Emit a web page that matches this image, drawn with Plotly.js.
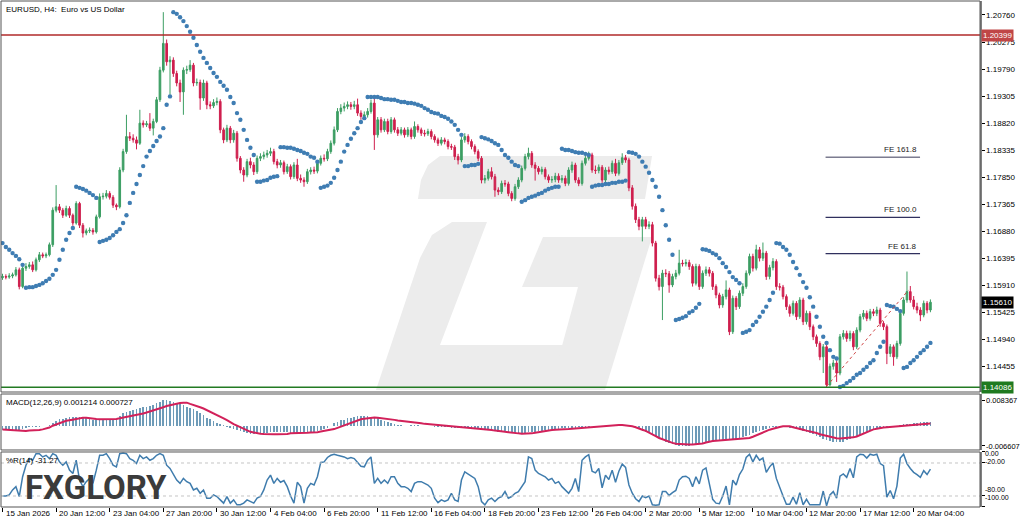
<!DOCTYPE html>
<html><head><meta charset="utf-8">
<script src="https://cdn.plot.ly/plotly-3.0.1.min.js"></script>
<style>html,body{margin:0;padding:0;background:#fff;}#chart{width:1024px;height:524px;}</style>
</head><body><div id="chart"></div>
<script>
// ---------- DATA ----------
const symbolTitle = "EURUSD,\u00a0H4:\u00a0\u00a0Euro vs US Dollar";
const firstOpen = 1.1605;
const close = [
1.1607,1.1606,1.1608,1.1610,1.1619,1.1589,1.1622,1.1625,1.1628,1.1619,
1.1637,1.1646,1.1644,1.1646,1.1664,1.1726,1.1732,1.1726,1.1717,1.1729,
1.1717,1.1703,1.1738,1.1699,1.1685,1.1689,1.1690,1.1687,1.1714,1.1750,
1.1751,1.1756,1.1749,1.1735,1.1732,1.1798,1.1831,1.1858,1.1855,1.1852,
1.1846,1.1882,1.1879,1.1881,1.1873,1.1885,1.1924,1.1977,1.2025,1.1992,
1.1995,1.1971,1.1954,1.1938,1.1977,1.1978,1.1986,1.1954,1.1955,1.1927,
1.1954,1.1915,1.1913,1.1919,1.1921,1.1870,1.1852,1.1873,1.1852,1.1864,
1.1819,1.1798,1.1789,1.1813,1.1807,1.1795,1.1819,1.1822,1.1825,1.1828,
1.1831,1.1813,1.1807,1.1811,1.1795,1.1804,1.1786,1.1807,1.1783,1.1780,
1.1777,1.1795,1.1798,1.1796,1.1810,1.1819,1.1818,1.1831,1.1846,1.1870,
1.1903,1.1909,1.1912,1.1915,1.1912,1.1915,1.1900,1.1894,1.1897,1.1903,
1.1918,1.1861,1.1888,1.1870,1.1885,1.1867,1.1888,1.1870,1.1864,1.1870,
1.1861,1.1870,1.1858,1.1876,1.1870,1.1864,1.1863,1.1867,1.1858,1.1852,
1.1846,1.1852,1.1849,1.1840,1.1839,1.1822,1.1816,1.1852,1.1858,1.1849,
1.1840,1.1831,1.1819,1.1780,1.1783,1.1795,1.1786,1.1762,1.1759,1.1774,
1.1773,1.1756,1.1747,1.1768,1.1780,1.1801,1.1822,1.1828,1.1807,1.1801,
1.1795,1.1799,1.1786,1.1780,1.1781,1.1787,1.1780,1.1783,1.1774,1.1798,
1.1807,1.1780,1.1774,1.1810,1.1819,1.1825,1.1798,1.1797,1.1803,1.1780,
1.1798,1.1795,1.1810,1.1792,1.1811,1.1820,1.1816,1.1766,1.1733,1.1709,
1.1697,1.1709,1.1697,1.1700,1.1667,1.1604,1.1589,1.1613,1.1612,1.1592,
1.1607,1.1613,1.1631,1.1630,1.1632,1.1625,1.1595,1.1625,1.1589,1.1613,
1.1619,1.1613,1.1589,1.1574,1.1556,1.1571,1.1583,1.1508,1.1568,1.1553,
1.1577,1.1589,1.1613,1.1643,1.1622,1.1655,1.1640,1.1649,1.1607,1.1623,
1.1634,1.1589,1.1588,1.1571,1.1553,1.1541,1.1559,1.1535,1.1565,1.1526,
1.1541,1.1517,1.1499,1.1487,1.1463,1.1481,1.1413,1.1446,1.1452,1.1434,
1.1499,1.1505,1.1496,1.1505,1.1481,1.1511,1.1535,1.1541,1.1532,1.1544,
1.1541,1.1547,1.1523,1.1517,1.1469,1.1481,1.1463,1.1487,1.1541,1.1565,
1.1580,1.1565,1.1553,1.1547,1.1538,1.1559,1.1547,1.1561];
const high = [
1.1612,1.1611,1.1613,1.1614,1.1624,1.1623,1.1626,1.1631,1.1633,1.1634,
1.1641,1.1651,1.1650,1.1650,1.1668,1.1731,1.1771,1.1737,1.1730,1.1734,
1.1733,1.1720,1.1742,1.1741,1.1703,1.1693,1.1695,1.1694,1.1718,1.1756,
1.1757,1.1762,1.1760,1.1753,1.1738,1.1803,1.1836,1.1897,1.1866,1.1862,
1.1858,1.1906,1.1887,1.1886,1.1900,1.1890,1.1929,1.1983,1.2081,1.2032,
1.2002,1.2000,1.1976,1.1960,1.1982,1.1985,1.1995,1.1990,1.1962,1.1960,
1.1960,1.1958,1.1921,1.1925,1.1928,1.1925,1.1874,1.1879,1.1877,1.1870,
1.1868,1.1823,1.1803,1.1818,1.1820,1.1812,1.1824,1.1828,1.1831,1.1834,
1.1838,1.1836,1.1818,1.1816,1.1815,1.1809,1.1808,1.1812,1.1818,1.1790,
1.1785,1.1800,1.1803,1.1804,1.1815,1.1824,1.1826,1.1836,1.1851,1.1876,
1.1909,1.1916,1.1919,1.1921,1.1920,1.1922,1.1926,1.1905,1.1903,1.1909,
1.1924,1.1930,1.1893,1.1893,1.1890,1.1890,1.1893,1.1892,1.1875,1.1875,
1.1874,1.1875,1.1874,1.1885,1.1880,1.1874,1.1870,1.1872,1.1871,1.1862,
1.1856,1.1857,1.1856,1.1853,1.1845,1.1843,1.1827,1.1857,1.1864,1.1862,
1.1853,1.1844,1.1835,1.1823,1.1789,1.1800,1.1803,1.1791,1.1767,1.1779,
1.1780,1.1777,1.1760,1.1773,1.1785,1.1806,1.1827,1.1838,1.1832,1.1812,
1.1805,1.1804,1.1803,1.1790,1.1787,1.1793,1.1792,1.1789,1.1788,1.1803,
1.1813,1.1811,1.1785,1.1815,1.1825,1.1831,1.1829,1.1806,1.1808,1.1807,
1.1803,1.1804,1.1815,1.1818,1.1816,1.1828,1.1825,1.1820,1.1771,1.1738,
1.1714,1.1714,1.1714,1.1706,1.1705,1.1671,1.1610,1.1619,1.1620,1.1617,
1.1612,1.1619,1.1655,1.1637,1.1638,1.1637,1.1629,1.1630,1.1629,1.1618,
1.1625,1.1624,1.1617,1.1593,1.1578,1.1576,1.1600,1.1587,1.1573,1.1572,
1.1582,1.1595,1.1618,1.1648,1.1648,1.1664,1.1660,1.1668,1.1653,1.1628,
1.1640,1.1638,1.1595,1.1592,1.1575,1.1557,1.1564,1.1563,1.1570,1.1569,
1.1546,1.1545,1.1521,1.1503,1.1491,1.1486,1.1485,1.1451,1.1458,1.1457,
1.1504,1.1511,1.1510,1.1510,1.1509,1.1516,1.1540,1.1547,1.1546,1.1549,
1.1549,1.1553,1.1551,1.1527,1.1521,1.1486,1.1485,1.1492,1.1546,1.1570,
1.1616,1.1590,1.1572,1.1560,1.1552,1.1564,1.1563,1.1566];
const low = [
1.1601,1.1602,1.1603,1.1604,1.1607,1.1584,1.1586,1.1617,1.1621,1.1615,
1.1616,1.1633,1.1640,1.1640,1.1643,1.1660,1.1722,1.1721,1.1712,1.1714,
1.1712,1.1698,1.1700,1.1694,1.1677,1.1681,1.1685,1.1682,1.1684,1.1711,
1.1745,1.1747,1.1745,1.1730,1.1726,1.1729,1.1794,1.1827,1.1850,1.1847,
1.1835,1.1843,1.1874,1.1875,1.1868,1.1860,1.1882,1.1920,1.1973,1.1985,
1.1933,1.1965,1.1948,1.1920,1.1897,1.1970,1.1974,1.1948,1.1949,1.1906,
1.1922,1.1907,1.1907,1.1909,1.1914,1.1864,1.1846,1.1848,1.1846,1.1847,
1.1813,1.1792,1.1777,1.1785,1.1801,1.1789,1.1791,1.1814,1.1817,1.1820,
1.1823,1.1808,1.1801,1.1802,1.1790,1.1791,1.1781,1.1782,1.1778,1.1775,
1.1768,1.1773,1.1790,1.1791,1.1792,1.1806,1.1813,1.1814,1.1827,1.1842,
1.1866,1.1898,1.1903,1.1907,1.1906,1.1907,1.1895,1.1888,1.1889,1.1892,
1.1899,1.1834,1.1856,1.1865,1.1866,1.1862,1.1863,1.1865,1.1859,1.1860,
1.1856,1.1857,1.1853,1.1854,1.1865,1.1859,1.1858,1.1859,1.1853,1.1847,
1.1841,1.1842,1.1844,1.1835,1.1834,1.1816,1.1808,1.1812,1.1847,1.1844,
1.1835,1.1826,1.1814,1.1774,1.1774,1.1779,1.1781,1.1750,1.1753,1.1755,
1.1768,1.1751,1.1742,1.1743,1.1764,1.1776,1.1797,1.1817,1.1802,1.1779,
1.1790,1.1790,1.1781,1.1775,1.1775,1.1776,1.1775,1.1775,1.1769,1.1770,
1.1793,1.1775,1.1769,1.1770,1.1806,1.1815,1.1793,1.1791,1.1792,1.1775,
1.1776,1.1790,1.1791,1.1787,1.1788,1.1807,1.1811,1.1760,1.1727,1.1703,
1.1690,1.1670,1.1692,1.1692,1.1661,1.1598,1.1582,1.1529,1.1606,1.1578,
1.1588,1.1602,1.1609,1.1625,1.1625,1.1619,1.1589,1.1591,1.1583,1.1585,
1.1608,1.1607,1.1583,1.1568,1.1550,1.1551,1.1566,1.1502,1.1504,1.1547,
1.1549,1.1572,1.1585,1.1609,1.1616,1.1618,1.1634,1.1635,1.1601,1.1602,
1.1618,1.1583,1.1582,1.1566,1.1547,1.1535,1.1537,1.1529,1.1531,1.1520,
1.1521,1.1511,1.1493,1.1481,1.1457,1.1434,1.14086,1.1410,1.1440,1.1418,
1.1430,1.1494,1.1490,1.1491,1.1475,1.1477,1.1507,1.1530,1.1527,1.1528,
1.1536,1.1536,1.1517,1.1511,1.1450,1.1463,1.1447,1.1459,1.1483,1.1537,
1.1560,1.1560,1.1548,1.1541,1.1527,1.1534,1.1541,1.1543];
const sar = [
1.1667,1.1660,1.1655,1.1649,1.1644,1.1638,1.1628,1.1587,1.1588,1.1588,
1.1590,1.1592,1.1595,1.1599,1.1603,1.1610,1.1619,1.1637,1.1655,1.1673,
1.1685,1.1694,1.1768,1.1766,1.1764,1.1761,1.1757,1.1753,1.1748,1.1669,
1.1671,1.1673,1.1676,1.1681,1.1687,1.1692,1.1703,1.1717,1.1739,1.1757,
1.1773,1.1789,1.1805,1.1822,1.1832,1.1841,1.1850,1.1858,1.1873,1.1915,
1.1930,1.2081,1.2078,1.2072,1.2065,1.2056,1.2046,1.2035,1.2022,1.2010,
1.1999,1.1990,1.1981,1.1972,1.1965,1.1956,1.1949,1.1942,1.1929,1.1918,
1.1900,1.1888,1.1870,1.1852,1.1838,1.1825,1.1777,1.1777,1.1779,1.1780,
1.1784,1.1786,1.1787,1.1839,1.1839,1.1838,1.1838,1.1836,1.1834,1.1832,
1.1829,1.1827,1.1822,1.1820,1.1813,1.1766,1.1768,1.1770,1.1775,1.1784,
1.1798,1.1813,1.1831,1.1843,1.1854,1.1864,1.1873,1.1884,1.1891,1.1929,
1.1929,1.1929,1.1929,1.1927,1.1925,1.1925,1.1924,1.1924,1.1922,1.1920,
1.1920,1.1918,1.1918,1.1917,1.1915,1.1913,1.1909,1.1906,1.1902,1.1900,
1.1899,1.1895,1.1893,1.1890,1.1885,1.1879,1.1870,1.1861,1.1805,1.1805,
1.1807,1.1807,1.1809,1.1857,1.1855,1.1853,1.1850,1.1846,1.1843,1.1834,
1.1825,1.1820,1.1813,1.1807,1.1805,1.1741,1.1744,1.1748,1.1750,1.1752,
1.1755,1.1757,1.1761,1.1764,1.1766,1.1768,1.1768,1.1836,1.1834,1.1834,
1.1832,1.1830,1.1829,1.1829,1.1827,1.1825,1.1768,1.1770,1.1771,1.1771,
1.1773,1.1773,1.1775,1.1775,1.1777,1.1777,1.1779,1.1830,1.1829,1.1827,
1.1822,1.1813,1.1804,1.1793,1.1780,1.1768,1.1750,1.1726,1.1699,1.1673,
1.1646,1.1529,1.1531,1.1533,1.1536,1.1542,1.1545,1.1551,1.1558,1.1656,
1.1655,1.1653,1.1649,1.1646,1.1640,1.1631,1.1624,1.1615,1.1606,1.1601,
1.1595,1.1506,1.1508,1.1511,1.1520,1.1526,1.1535,1.1544,1.1553,1.1565,
1.1578,1.1667,1.1666,1.1660,1.1655,1.1646,1.1633,1.1622,1.1610,1.1597,
1.1587,1.1570,1.1553,1.1535,1.1517,1.1499,1.1488,1.1475,1.1463,1.1460,
1.1409,1.1411,1.1416,1.1420,1.1425,1.1431,1.1434,1.1440,1.1445,1.1452,
1.1457,1.1470,1.1481,1.1490,1.1556,1.1554,1.1553,1.1549,1.1545,1.1443,
1.1445,1.1452,1.1457,1.1463,1.1470,1.1475,1.1481,1.1488];
const macdHist = [
-0.0014,-0.0014,-0.0014,-0.0014,-0.0013,-0.0014,-0.0010,-0.0007,-0.0005,-0.0005,
-0.0004,-0.0003,-0.0002,-0.0001,0.0002,0.0010,0.0016,0.0021,0.0023,0.0025,
0.0027,0.0027,0.0029,0.0028,0.0026,0.0024,0.0021,0.0018,0.0018,0.0020,
0.0021,0.0022,0.0021,0.0021,0.0023,0.0032,0.0040,0.0046,0.0049,0.0051,
0.0053,0.0057,0.0060,0.0062,0.0064,0.0067,0.0073,0.0078,0.0083,0.008367,
0.0082,0.0078,0.0075,0.0072,0.0067,0.0062,0.0058,0.0053,0.0048,0.0040,
0.0034,0.0026,0.0021,0.0015,0.0010,0.0005,0.0001,-0.0003,-0.0007,-0.0011,
-0.0015,-0.0018,-0.0022,-0.0024,-0.0026,-0.0027,-0.0027,-0.0026,-0.0025,-0.0023,
-0.0022,-0.0021,-0.0021,-0.0021,-0.0021,-0.0022,-0.0023,-0.0023,-0.0023,-0.0023,
-0.0023,-0.0022,-0.0021,-0.0020,-0.0018,-0.0015,-0.0011,-0.0006,-0.0002,0.0008,
0.0012,0.0017,0.0019,0.0024,0.0026,0.0029,0.0030,0.0031,0.0032,0.0031,
0.0029,0.0026,0.0024,0.0020,0.0016,0.0013,0.0010,0.0006,0.0002,0.0001,
0.0000,-0.0001,0.0001,0.0002,0.0001,0.0000,-0.0001,-0.0001,-0.0002,-0.0003,
-0.0003,-0.0004,-0.0004,-0.0005,-0.0006,-0.0007,-0.0008,-0.0006,-0.0006,-0.0007,
-0.0008,-0.0009,-0.0011,-0.0013,-0.0014,-0.0015,-0.0016,-0.0018,-0.0020,-0.0021,
-0.0022,-0.0023,-0.0023,-0.0023,-0.0023,-0.0023,-0.0023,-0.0022,-0.0021,-0.0020,
-0.0018,-0.0016,-0.0014,-0.0013,-0.0012,-0.0011,-0.0010,-0.0009,-0.0008,-0.0007,
-0.0006,-0.0006,-0.0005,-0.0004,-0.0003,-0.0003,-0.0002,-0.0001,-0.0001,-0.0001,
0.0000,0.0001,0.0001,0.0001,0.0001,0.0002,0.0001,-0.0001,-0.0004,-0.0007,
-0.0012,-0.0016,-0.0019,-0.0024,-0.0028,-0.0034,-0.0040,-0.0046,-0.0052,-0.0056,
-0.0060,-0.0062,-0.0065,-0.006607,-0.0066,-0.0065,-0.0064,-0.0061,-0.0060,-0.0058,
-0.0055,-0.0053,-0.0052,-0.0050,-0.0049,-0.0048,-0.0047,-0.0047,-0.0046,-0.0043,
-0.0041,-0.0037,-0.0034,-0.0029,-0.0025,-0.0022,-0.0018,-0.0014,-0.0011,-0.0007,
-0.0005,-0.0004,-0.0002,-0.0002,-0.0004,-0.0006,-0.0008,-0.0011,-0.0013,-0.0017,
-0.0020,-0.0024,-0.0028,-0.0032,-0.0037,-0.0042,-0.0047,-0.0050,-0.0053,-0.0054,
-0.0054,-0.0052,-0.0048,-0.0044,-0.0041,-0.0036,-0.0031,-0.0026,-0.0022,-0.0017,
-0.0013,-0.0010,-0.0007,-0.0005,-0.0004,-0.0004,-0.0002,-0.0001,0.0001,0.0004,
0.0006,0.0007,0.0008,0.0010,0.0011,0.0011,0.0012,0.001214];
const macdSignal = [
-0.0012,-0.0013,-0.0014,-0.0015,-0.0016,-0.0017,-0.0017,-0.0017,-0.0016,-0.0016,
-0.0015,-0.0014,-0.0012,-0.0009,-0.0006,0.0000,0.0004,0.0009,0.0012,0.0016,
0.0018,0.0020,0.0024,0.0025,0.0026,0.0026,0.0024,0.0023,0.0022,0.0021,
0.0021,0.0021,0.0021,0.0021,0.0022,0.0024,0.0026,0.0028,0.0030,0.0033,
0.0035,0.0037,0.0040,0.0043,0.0046,0.0049,0.0052,0.0057,0.0060,0.0064,
0.0067,0.0069,0.0073,0.0074,0.0075,0.0075,0.0071,0.0068,0.0065,0.0060,
0.0056,0.0051,0.0046,0.0041,0.0036,0.0029,0.0024,0.0018,0.0010,0.0005,
0.0000,-0.0005,-0.0009,-0.0013,-0.0020,-0.0022,-0.0025,-0.0026,-0.0027,-0.0028,
-0.0028,-0.0028,-0.0028,-0.0028,-0.0027,-0.0027,-0.0025,-0.0025,-0.0024,-0.0023,
-0.0023,-0.0023,-0.0022,-0.0022,-0.0021,-0.0019,-0.0017,-0.0016,-0.0014,-0.0011,
-0.0007,-0.0003,0.0002,0.0007,0.0011,0.0015,0.0018,0.0021,0.0023,0.0025,
0.0026,0.0027,0.0026,0.0025,0.0024,0.0023,0.0021,0.0019,0.0017,0.0016,
0.0014,0.0012,0.0011,0.0010,0.0009,0.0008,0.0006,0.0005,0.0004,0.0003,
0.0002,0.0001,0.0000,-0.0001,-0.0002,-0.0003,-0.0003,-0.0004,-0.0005,-0.0005,
-0.0006,-0.0007,-0.0009,-0.0010,-0.0011,-0.0013,-0.0014,-0.0016,-0.0018,-0.0019,
-0.0020,-0.0021,-0.0023,-0.0024,-0.0025,-0.0026,-0.0026,-0.0026,-0.0025,-0.0023,
-0.0021,-0.0018,-0.0016,-0.0015,-0.0014,-0.0013,-0.0013,-0.0012,-0.0011,-0.0011,
-0.0010,-0.0009,-0.0009,-0.0008,-0.0007,-0.0006,-0.0004,-0.0003,-0.0002,-0.0001,
0.0000,0.0000,0.0001,0.0001,0.0002,0.0002,0.0001,0.0000,-0.0002,-0.0005,
-0.0010,-0.0013,-0.0017,-0.0022,-0.0028,-0.0034,-0.0040,-0.0044,-0.0049,-0.0054,
-0.0056,-0.0059,-0.0060,-0.0061,-0.0061,-0.0061,-0.0061,-0.0060,-0.0060,-0.0058,
-0.0055,-0.0052,-0.0050,-0.0049,-0.0048,-0.0047,-0.0047,-0.0046,-0.0044,-0.0044,
-0.0043,-0.0042,-0.0041,-0.0040,-0.0036,-0.0031,-0.0028,-0.0023,-0.0018,-0.0013,
-0.0010,-0.0006,-0.0004,-0.0002,-0.0001,-0.0002,-0.0005,-0.0007,-0.0010,-0.0013,
-0.0016,-0.0018,-0.0020,-0.0024,-0.0028,-0.0031,-0.0034,-0.0036,-0.0038,-0.0041,
-0.0042,-0.0041,-0.0041,-0.0040,-0.0038,-0.0035,-0.0030,-0.0025,-0.0020,-0.0016,
-0.0012,-0.0010,-0.0007,-0.0006,-0.0005,-0.0004,-0.0004,-0.0002,-0.0002,-0.0001,
-0.0001,0.0000,0.0001,0.0002,0.0004,0.0005,0.0007,0.000727];
const willR = [
-80,-80,-78,-69,-63,-81,-45,-24,-12,-15,
-3,-3,-9,-6,-12,-3,-6,-18,-24,-18,
-33,-39,-15,-51,-63,-54,-48,-57,-33,-6,
-6,-3,-12,-24,-27,-3,-2,-3,-12,-15,
-21,-6,-12,-9,-15,-12,-6,-3,-6,-24,
-30,-42,-51,-57,-48,-54,-57,-69,-66,-75,
-69,-84,-84,-78,-81,-87,-93,-81,-93,-87,
-96,-96,-93,-87,-90,-93,-84,-81,-69,-51,
-42,-57,-48,-55,-52,-63,-80,-93,-55,-63,
-93,-66,-57,-60,-45,-19,-18,-10,-6,-4,
-6,-7,-9,-12,-10,-12,-20,-26,-27,-15,
-9,-57,-48,-57,-51,-57,-45,-45,-57,-63,
-63,-66,-72,-57,-54,-54,-57,-60,-66,-84,
-92,-87,-90,-87,-75,-87,-90,-51,-36,-40,
-45,-48,-63,-90,-96,-87,-84,-90,-84,-81,
-72,-84,-81,-75,-72,-63,-54,-9,-12,-33,
-39,-42,-45,-51,-48,-57,-54,-63,-69,-75,
-66,-48,-72,-15,-9,-5,-35,-38,-30,-65,
-42,-50,-33,-55,-35,-22,-28,-60,-75,-85,
-90,-80,-83,-80,-96,-97,-96,-72,-72,-79,
-74,-70,-51,-45,-44,-48,-63,-45,-58,-33,
-29,-55,-86,-93,-94,-80,-62,-96,-51,-60,
-41,-31,-10,-4,-18,-6,-15,-11,-37,-27,
-20,-48,-66,-80,-95,-95,-82,-95,-74,-96,
-86,-96,-96,-96,-96,-71,-98,-78,-72,-84,
-44,-40,-46,-30,-47,-9,-4,-5,-11,-4,
-6,-4,-21,-25,-82,-70,-85,-62,-11,-4,
-21,-30,-37,-41,-46,-34,-41,-31.27];
const timeTickIdx = [0,16,32,48,64,80,96,112,128,144,160,176,192,208,224,240,256,272];
const timeTickLabels = ["15 Jan 2026","20 Jan 12:00","23 Jan 04:00","27 Jan 20:00","30 Jan 12:00","4 Feb 04:00","6 Feb 20:00","11 Feb 12:00","16 Feb 04:00","18 Feb 20:00","23 Feb 12:00","26 Feb 04:00","2 Mar 20:00","5 Mar 12:00","10 Mar 04:00","12 Mar 20:00","17 Mar 12:00","20 Mar 04:00"];
const priceTicks = [1.20760,1.20275,1.19790,1.19305,1.18820,1.18335,1.17850,1.17365,1.16880,1.16395,1.15910,1.15425,1.14940,1.14455];
const resistanceLevel = 1.20399;
const supportLevel = 1.14086;
const feLabels = ["FE 161.8","FE 100.0","FE 61.8"];
const feLevels = [1.1821, 1.1713, 1.1648];
const feFromIdx = 245.7, feToIdx = 273.9;
const feBaseX = [246, 270.5];
const feBaseY = [1.1410, 1.1583];
const macdTicks = [0.008367, -0.006607];
const wprTicks = [0, -20, -80, -100];
const wprTickText = ["0.00", "-20.00", "-80.00", "-100.00"];
const wprLevels = [-20, -80];

// ---------- BUILD ----------
const idx = close.map((_, i) => i);
const open = [firstOpen].concat(close.slice(0, -1));
const last = close.length - 1;

const px = x => (x - 1) / 979;
const py = y => (507 - y) / 506;
function pathFromPx(pts){
  return 'M' + pts.map(p => px(p[0]).toFixed(4) + ',' + py(p[1]).toFixed(4)).join(' L') + ' Z';
}

const traces = [
  {type:'candlestick', x: idx, open: open, high: high, low: low, close: close, xaxis:'x', yaxis:'y',
   increasing:{line:{color:'#3c9e63', width:1}, fillcolor:'#3c9e63'},
   decreasing:{line:{color:'#cf1f4e', width:1}, fillcolor:'#cf1f4e'},
   whiskerwidth:0, hoverinfo:'none'},
  {type:'scatter', mode:'markers', x: idx, y: sar, xaxis:'x', yaxis:'y',
   marker:{size:4.4, color:'#3f7db3'}, hoverinfo:'none'},
  {type:'scatter', mode:'lines', x: feBaseX, y: feBaseY, xaxis:'x', yaxis:'y',
   line:{color:'#d04848', width:1, dash:'dot'}, hoverinfo:'none'},
  {type:'bar', x: idx, y: macdHist, xaxis:'x', yaxis:'y2', width:0.5,
   marker:{color:'#6e9bb8', line:{width:0}}, hoverinfo:'none'},
  {type:'scatter', mode:'lines', x: idx, y: macdSignal, xaxis:'x', yaxis:'y2',
   line:{color:'#d2215a', width:2}, hoverinfo:'none'},
  {type:'scatter', mode:'lines', x: idx, y: willR, xaxis:'x', yaxis:'y3',
   line:{color:'#3f7cad', width:1.5}, hoverinfo:'none'}
];

const wm = '#ececec';
const shapes = [
  // watermark
  {type:'path', xref:'paper', yref:'paper', layer:'below', fillcolor:wm, line:{width:0},
   path: pathFromPx([[440,156],[652,156],[645,199],[418,199],[421,180],[428,165]])},
  {type:'path', xref:'paper', yref:'paper', layer:'below', fillcolor:wm, line:{width:0},
   path: pathFromPx([[452,222],[487,222],[440,345],[612,345],[598,390],[376,390],[420,258],[432,235]])},
  {type:'path', xref:'paper', yref:'paper', layer:'below', fillcolor:wm, line:{width:0},
   path: pathFromPx([[543,237],[652,237],[605,390],[550,390],[578,287],[522,287]])},
  // key levels
  {type:'line', xref:'paper', yref:'y', x0:0, x1:1, y0:resistanceLevel, y1:resistanceLevel, line:{color:'#b02a2a', width:1.5}},
  {type:'line', xref:'paper', yref:'y', x0:0, x1:1, y0:supportLevel, y1:supportLevel, line:{color:'#237a23', width:1.5}},
  // WPR levels
  ...wprLevels.map(v => ({type:'line', xref:'paper', yref:'y3', x0:0, x1:1, y0:v, y1:v, line:{color:'#c4c4c4', width:1, dash:'dot'}})),
  // FE lines
  ...feLevels.map((v, k) => ({type:'line', xref:'x', yref:'y', x0:feFromIdx, x1:feToIdx, y0:v, y1:v,
     line:{color: k === 0 ? '#7c7c90' : '#30305e', width: k === 0 ? 1.6 : 1.2}})),
  // panel frames
  {type:'rect', xref:'paper', yref:'y domain', x0:0, x1:1, y0:0, y1:1, line:{color:'#555', width:1}, fillcolor:'rgba(0,0,0,0)'},
  {type:'rect', xref:'paper', yref:'y2 domain', x0:0, x1:1, y0:0, y1:1, line:{color:'#555', width:1}, fillcolor:'rgba(0,0,0,0)'},
  {type:'rect', xref:'paper', yref:'y3 domain', x0:0, x1:1, y0:0, y1:1, line:{color:'#555', width:1}, fillcolor:'rgba(0,0,0,0)'}
];

const small = {family:'Liberation Sans, Arial, sans-serif', size:8, color:'#000'};
const tiny = {family:'Liberation Sans, Arial, sans-serif', size:7, color:'#000'};
// MT4 nudges the %R scale labels inward from the window edges
const wprLabelPx = [458, 465.5, 494, 502];
const annotations = [
  {xref:'paper', yref:'paper', x:px(4), y:py(3), xanchor:'left', yanchor:'top', text:symbolTitle, showarrow:false, font:small},
  {xref:'paper', yref:'paper', x:px(4), y:py(396), xanchor:'left', yanchor:'top',
   text:'MACD(12,26,9) ' + macdHist[last].toFixed(6) + ' ' + macdSignal[last].toFixed(6), showarrow:false, font:small},
  {xref:'paper', yref:'paper', x:px(4), y:py(454), xanchor:'left', yanchor:'top',
   text:'%R(14) ' + willR[last].toFixed(2), showarrow:false, font:small},
  // price boxes
  {xref:'paper', yref:'y', x:1, y:resistanceLevel, xanchor:'left', xshift:1, text:resistanceLevel.toFixed(5), showarrow:false,
   bgcolor:'#c04646', borderpad:1, font:{family:small.family, size:8, color:'#fff'}},
  {xref:'paper', yref:'y', x:1, y:close[last], xanchor:'left', xshift:1, text:close[last].toFixed(5), showarrow:false,
   bgcolor:'#000', borderpad:1, font:{family:small.family, size:8, color:'#fff'}},
  {xref:'paper', yref:'y', x:1, y:supportLevel, xanchor:'left', xshift:1, text:supportLevel.toFixed(5), showarrow:false,
   bgcolor:'#1f7a1f', borderpad:1, font:{family:small.family, size:8, color:'#fff'}},
  // %R scale labels
  ...wprTickText.map((t, k) => ({xref:'paper', yref:'paper', x:1, y:py(wprLabelPx[k]),
     xanchor:'left', xshift:4, text:t, showarrow:false, borderpad:0, font:tiny})),
  // time labels (left-aligned at their tick like MT4)
  ...timeTickIdx.map((v, k) => ({xref:'x', yref:'paper', x:v, y:py(513.5), xanchor:'left', yanchor:'middle', xshift:1,
     text:timeTickLabels[k], showarrow:false, font:small})),
  // FE labels
  ...feLevels.map((v, k) => ({xref:'x', yref:'y', x:feToIdx - 0.4, y:v, xanchor:'right', yanchor:'bottom', yshift:1,
     text:feLabels[k], showarrow:false, font:{family:small.family, size:8, color:'#222'}})),
  // logo
  {xref:'paper', yref:'paper', x:px(23), y:py(487), xanchor:'left', yanchor:'middle', text:'<b>FXGLORY</b>', showarrow:false,
   font:{family:'Roboto, Liberation Sans, sans-serif', size:33, color:'#3b3b3b'}}
];

const axisCommon = {showgrid:false, zeroline:false, fixedrange:true};
const layout = {
  width:1024, height:524,
  margin:{l:1, r:44, t:1, b:17},
  paper_bgcolor:'#fff', plot_bgcolor:'rgba(0,0,0,0)',
  showlegend:false, hovermode:false,
  font: small,
  bargap:0,
  xaxis: Object.assign({}, axisCommon, {range:[-0.45, 291.8], anchor:'y3', tickvals:timeTickIdx, showticklabels:false,
    ticks:'outside', ticklen:4, tickcolor:'#000', showline:false, rangeslider:{visible:false}}),
  yaxis: Object.assign({}, axisCommon, {domain:[0.22727, 1], range:[1.1400, 1.2101], side:'right', anchor:'x',
    tickvals:priceTicks, tickformat:'.5f', ticks:'outside', ticklen:3, tickcolor:'#000', showline:true, linecolor:'#808080', linewidth:1.5, tickfont:small}),
  yaxis2: Object.assign({}, axisCommon, {domain:[0.11265, 0.22332], range:[-0.00792, 0.01033], side:'right', anchor:'x',
    tickvals:macdTicks, ticktext:macdTicks.map(v => v.toFixed(6)), ticks:'outside', ticklen:3, tickcolor:'#000',
    showline:true, linecolor:'#808080', linewidth:1.5, tickfont:{family:small.family, size:7.5, color:'#000'}}),
  yaxis3: Object.assign({}, axisCommon, {domain:[0, 0.1087], range:[-100, 0], side:'right', anchor:'x',
    tickvals:wprTicks, showticklabels:false, ticks:'outside', ticklen:3, tickcolor:'#000',
    showline:true, linecolor:'#808080', linewidth:1.5}),
  shapes: shapes,
  annotations: annotations
};

Plotly.newPlot('chart', traces, layout, {staticPlot:true, displayModeBar:false});
</script>
</body></html>
